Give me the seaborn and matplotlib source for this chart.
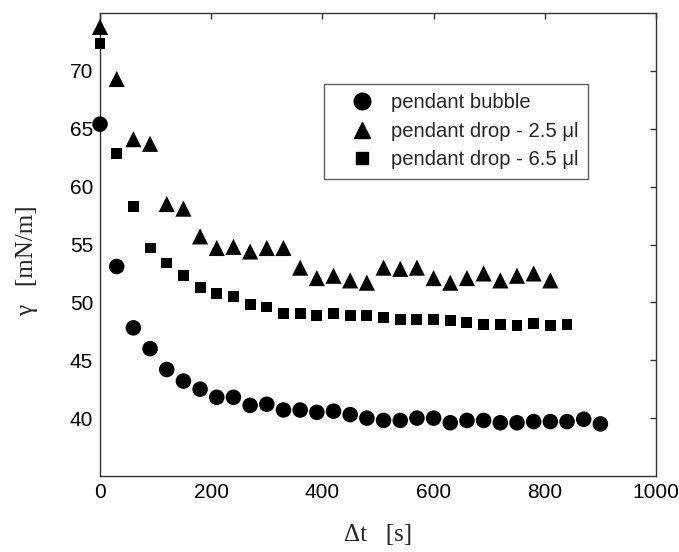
import numpy as np
import pandas as pd
import matplotlib
matplotlib.use("Agg")
import matplotlib.pyplot as plt
import seaborn as sns
from matplotlib.lines import Line2D

# ---- data ----
t_bubble = [0, 30, 60, 90, 120, 150, 180, 210, 240, 270, 300, 330, 360, 390, 420,
            450, 480, 510, 540, 570, 600, 630, 660, 690, 720, 750, 780, 810, 840, 870, 900]
g_bubble = [65.4, 53.1, 47.8, 46.0, 44.2, 43.2, 42.5, 41.8, 41.8, 41.1, 41.2, 40.7, 40.7,
            40.5, 40.6, 40.3, 40.0, 39.8, 39.8, 40.0, 40.0, 39.6, 39.8, 39.8, 39.6, 39.6,
            39.7, 39.7, 39.7, 39.9, 39.5]

t_drop25 = [0, 30, 60, 90, 120, 150, 180, 210, 240, 270, 300, 330, 360, 390, 420, 450,
            480, 510, 540, 570, 600, 630, 660, 690, 720, 750, 780, 810]
g_drop25 = [73.8, 69.3, 64.1, 63.7, 58.5, 58.1, 55.7, 54.7, 54.8, 54.4, 54.7, 54.7, 53.0,
            52.1, 52.3, 51.9, 51.7, 53.0, 52.9, 53.0, 52.1, 51.7, 52.1, 52.5, 51.9, 52.3,
            52.5, 51.9]

t_drop65 = [0, 30, 60, 90, 120, 150, 180, 210, 240, 270, 300, 330, 360, 390, 420, 450,
            480, 510, 540, 570, 600, 630, 660, 690, 720, 750, 780, 810, 840]
g_drop65 = [72.4, 62.9, 58.3, 54.7, 53.4, 52.3, 51.3, 50.8, 50.5, 49.8, 49.6, 49.0, 49.0,
            48.9, 49.0, 48.9, 48.9, 48.7, 48.5, 48.5, 48.5, 48.4, 48.3, 48.1, 48.1, 48.0,
            48.2, 48.0, 48.1]

labels = ["pendant bubble", "pendant drop - 2.5 \u03bcl", "pendant drop - 6.5 \u03bcl"]
x_ticks = [0, 200, 400, 600, 800, 1000]
y_ticks = [40, 45, 50, 55, 60, 65, 70]

df = pd.concat([
    pd.DataFrame({"t": t_bubble, "g": g_bubble, "series": labels[0]}),
    pd.DataFrame({"t": t_drop25, "g": g_drop25, "series": labels[1]}),
    pd.DataFrame({"t": t_drop65, "g": g_drop65, "series": labels[2]}),
])

sns.set_style("white")
plt.rcParams["font.family"] = ["Liberation Sans", "DejaVu Sans"]

fig = plt.figure(figsize=(6.79, 5.52), dpi=100)
ax = fig.add_axes([0.1473, 0.1377, 0.8188, 0.8387])

markers = {labels[0]: "o", labels[1]: "^", labels[2]: "s"}
sizes = {labels[0]: 125, labels[1]: 135, labels[2]: 62}
for lab in labels:
    sub = df[df["series"] == lab]
    sns.scatterplot(data=sub, x="t", y="g", marker=markers[lab], s=sizes[lab],
                    color="black", edgecolor="none", linewidth=0, ax=ax,
                    legend=False, zorder=3, clip_on=False)

ax.set_xlim(0, 1000)
ax.set_ylim(35, 75)
ax.set_xticks(x_ticks)
ax.set_yticks(y_ticks)
ax.tick_params(direction="in", length=4, width=1, colors="#333333",
               labelcolor="black", labelsize=15, top=True, right=True,
               labeltop=False, labelright=False, pad=5)
for sp in ax.spines.values():
    sp.set_visible(True)
    sp.set_color("#333333")
    sp.set_linewidth(1.0)

serif = ["Liberation Serif", "DejaVu Serif"]
ax.set_xlabel("\u0394t   [s]", fontsize=18, family=serif, labelpad=16)
ax.set_ylabel("\u03b3   [mN/m]", fontsize=18, family=serif)
ax.yaxis.set_label_coords(-0.112, 0.466)

handles = [
    Line2D([], [], marker="o", color="black", linestyle="none", markersize=12),
    Line2D([], [], marker="^", color="black", linestyle="none", markersize=12),
    Line2D([], [], marker="s", color="black", linestyle="none", markersize=8.5),
]
leg = ax.legend(handles, labels, loc="upper left", bbox_to_anchor=(0.403, 0.847),
                borderaxespad=0, frameon=True, fancybox=False, fontsize=14.6,
                handlelength=2.8, handletextpad=0.05, borderpad=0.45,
                labelspacing=0.48, edgecolor="#333333")
leg.get_frame().set_linewidth(1.0)

fig.savefig("out.png", dpi=100)
